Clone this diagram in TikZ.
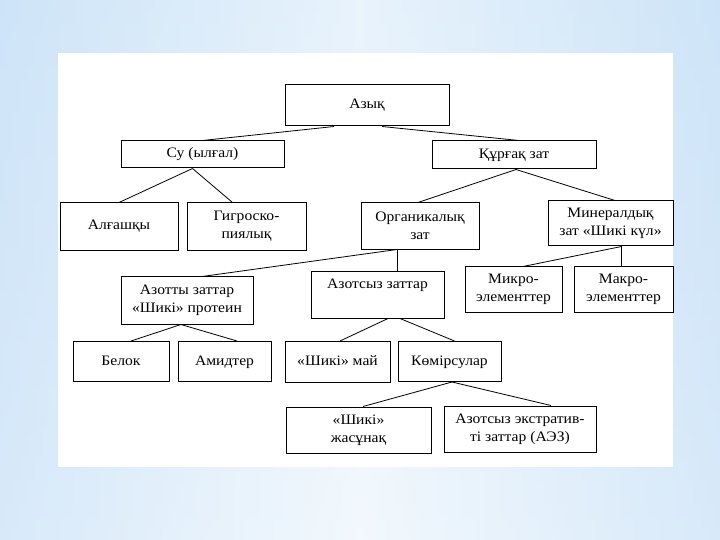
\documentclass[tikz,border=0pt]{standalone}
\usepackage{fontspec}
\setmainfont{Liberation Serif}[FakeStretch=1.08]
\definecolor{bgedge}{RGB}{184,216,245}
\definecolor{bgmid}{RGB}{232,243,252}
\begin{document}
\begin{tikzpicture}[x=1bp,y=-1bp,
  box/.style={draw=black, line width=1bp, fill=white, inner sep=0pt, align=center,
              font=\fontsize{14.5}{18}\selectfont},
  single/.style={text height=10bp, text depth=3bp},
  txt/.style={inner sep=0pt, align=center, font=\fontsize{14.5}{18}\selectfont},
  conn/.style={draw=black, line width=0.8bp}]
\useasboundingbox (0,0) rectangle (720,540);
\shade[left color=bgedge, right color=bgedge, middle color=bgmid] (0,0) rectangle (720,540);
\shade[top color=bgmid, bottom color=white, opacity=0.45] (0,0) rectangle (720,540);
\fill[white] (58,53) rectangle (673,467);

\node[box, single, minimum width=164bp, minimum height=41bp] (azyk) at (367,105.5) {Азық};
\node[box, single, minimum width=163bp, minimum height=27bp] (su) at (202.5,154.5) {Су (ылғал)};
\node[box, single, minimum width=164bp, minimum height=28bp] (kurgak) at (514,155) {Құрғақ зат};
\node[box, single, minimum width=118bp, minimum height=47bp] (algashky) at (119,226.5) {Алғашқы};
\node[box, minimum width=119bp, minimum height=47bp] (gigro) at (246.5,226.5) {Гигроско-\\пиялық};
\node[box, minimum width=118bp, minimum height=46bp] (org) at (420,226) {Органикалық\\зат};
\node[box, minimum width=125bp, minimum height=45bp] (miner) at (610.5,223.5) {Минералдық\\зат «Шикі күл»};
\node[box, minimum width=132bp, minimum height=47bp] (azotty) at (187,300.5) {Азотты заттар\\«Шикі» протеин};
\node[box, minimum width=133bp, minimum height=46bp] (azotsyz) at (377.5,295) {};
\node[txt, single] (azotsyzt) at ([yshift=-13bp]azotsyz.north) {Азотсыз заттар};
\node[box, minimum width=97bp, minimum height=45bp] (mikro) at (513.5,289.5) {Микро-\\элементтер};
\node[box, minimum width=99bp, minimum height=45bp] (makro) at (623.5,289.5) {Макро-\\элементтер};
\node[box, single, minimum width=96bp, minimum height=40bp] (belok) at (121,361.5) {Белок};
\node[box, single, minimum width=93bp, minimum height=40bp] (amid) at (224.5,361.5) {Амидтер};
\node[box, single, minimum width=105bp, minimum height=41bp] (mai) at (337.5,362) {«Шикі» май};
\node[box, single, minimum width=103bp, minimum height=40bp] (komir) at (449.5,361.5) {Көмірсулар};
\node[box, minimum width=145bp, minimum height=46bp] (zhasun) at (358.5,430) {«Шикі»\\жасұнақ};
\node[box, minimum width=152bp, minimum height=46bp] (aez) at (520,429) {Азотсыз экстратив-\\ті заттар (АЭЗ)};

% junction points
\coordinate (jaz1) at ([xshift=-33bp]azyk.south);
\coordinate (jaz2) at ([xshift=15bp]azyk.south);
\coordinate (jsu) at ([xshift=-10bp]su.south);
\coordinate (jkur) at ([xshift=2bp]kurgak.south);
\coordinate (jorg) at ([xshift=-23bp]org.south);
\coordinate (jmin) at ([xshift=11bp]miner.south);
\coordinate (jazt) at ([xshift=-6bp]azotty.south);
\coordinate (jazs1) at ([xshift=10.5bp]azotsyz.south);
\coordinate (jazs2) at ([xshift=22.5bp]azotsyz.south);
\coordinate (jkom) at ([xshift=2.5bp]komir.south);

\draw[conn] (jaz1) -- (su.north);
\draw[conn] (jaz2) -- ([xshift=5bp]kurgak.north);
\draw[conn] (jsu) -- (algashky.north);
\draw[conn] (jsu) -- ([xshift=-14bp]gigro.north);
\draw[conn] (jkur) -- ([xshift=-2bp]org.north);
\draw[conn] (jkur) -- ([xshift=4.5bp]miner.north);
\draw[conn] (jorg) -- ([xshift=15bp]azotty.north);
\draw[conn] (jorg) -- (jorg |- azotsyz.north);
\draw[conn] (jmin) -- ([xshift=9.5bp]mikro.north);
\draw[conn] (jmin) -- (jmin |- makro.north);
\draw[conn] (jazt) -- ([xshift=10bp]belok.north);
\draw[conn] (jazt) -- ([xshift=12.5bp]amid.north);
\draw[conn] (jazs1) -- ([xshift=2.5bp]mai.north);
\draw[conn] (jazs2) -- ([xshift=5bp]komir.north);
\draw[conn] (jkom) -- ([xshift=4.5bp]zhasun.north);
\draw[conn] (jkom) -- ([xshift=31bp]aez.north);
\end{tikzpicture}
\end{document}
